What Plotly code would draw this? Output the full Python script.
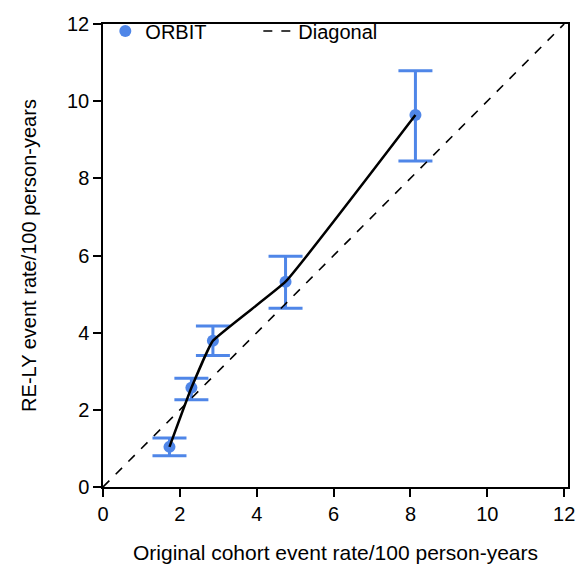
import plotly.graph_objects as go

orig_rate = [1.73, 2.30, 2.86, 4.75, 8.13]
rely_rate = [1.04, 2.57, 3.79, 5.32, 9.64]
ci_upper = [1.27, 2.82, 4.17, 5.98, 10.79]
ci_lower = [0.81, 2.26, 3.41, 4.63, 8.45]
diag = [0, 12]

err_plus = [u - y for u, y in zip(ci_upper, rely_rate)]
err_minus = [y - l for y, l in zip(rely_rate, ci_lower)]

blue = "#4F86E8"
FONT = "Arial, Liberation Sans, sans-serif"

fig = go.Figure()
fig.add_trace(go.Scatter(
    x=orig_rate, y=rely_rate, mode="markers", name="ORBIT",
    marker=dict(color=blue, size=12),
    error_y=dict(type="data", symmetric=False, array=err_plus, arrayminus=err_minus,
                 color=blue, thickness=3, width=17),
))
fig.add_trace(go.Scatter(
    x=diag, y=diag, mode="lines", name="Diagonal",
    line=dict(color="black", dash="dash", width=1.6),
))
fig.add_trace(go.Scatter(
    x=orig_rate, y=rely_rate, mode="lines", showlegend=False,
    line=dict(color="black", width=2.5, shape="spline", smoothing=0.3),
))

axis_common = dict(
    showline=True, linecolor="black", linewidth=1.5, mirror=True,
    ticks="outside", ticklen=8, tickwidth=1.5, tickcolor="black",
    showgrid=False, zeroline=False, dtick=2,
    tickfont=dict(family=FONT, size=20, color="black"),
)

fig.update_layout(
    width=587, height=576,
    margin=dict(l=103, r=15, t=15, b=89),
    plot_bgcolor="white", paper_bgcolor="white",
    font=dict(family=FONT, size=20, color="black"),
    xaxis=dict(range=[0, 12.1], title=dict(text="Original cohort event rate/100 person-years",
               font=dict(size=21), standoff=22), **axis_common),
    yaxis=dict(range=[0, 12], title=dict(text="RE-LY event rate/100 person-years",
               font=dict(size=20), standoff=25), **axis_common),
    legend=dict(orientation="h", x=0.005, y=1.027, xanchor="left", yanchor="top",
                bgcolor="rgba(0,0,0,0)", font=dict(size=20), entrywidth=108,
                entrywidthmode="pixels"),
    showlegend=True,
)

fig.write_html("out.html")
